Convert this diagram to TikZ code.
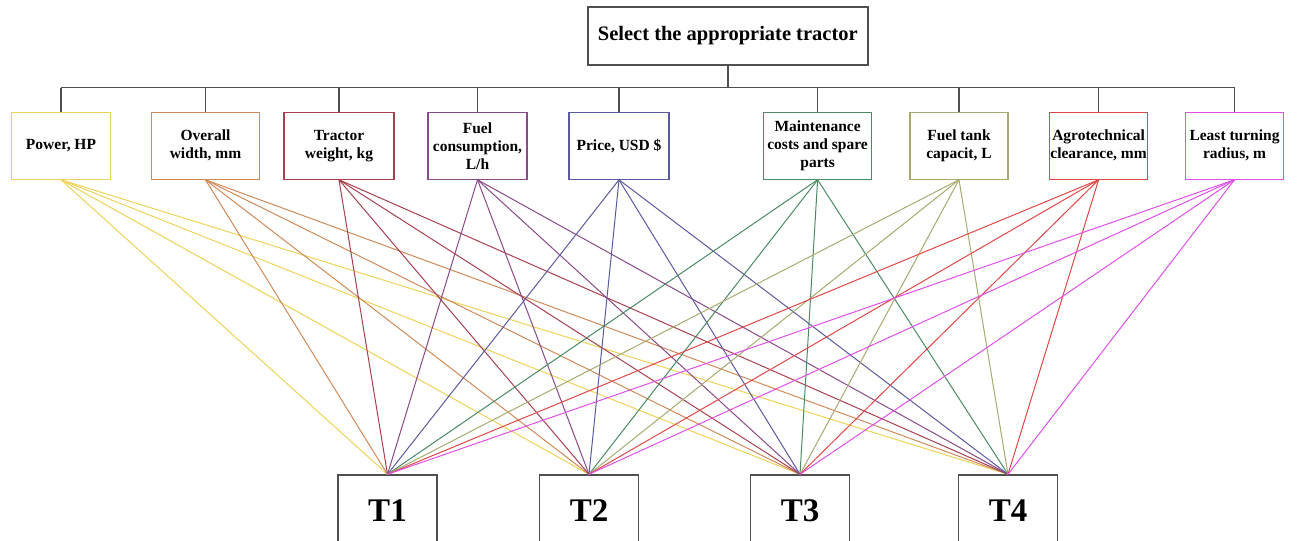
\documentclass[tikz,border=0pt]{standalone}
\usepackage{fontspec}
\setmainfont{Liberation Serif}
\definecolor{cPow}{HTML}{EDD35A}
\definecolor{cWid}{HTML}{D08A5A}
\definecolor{cWei}{HTML}{A84050}
\definecolor{cFue}{HTML}{8A4A8A}
\definecolor{cPri}{HTML}{5A5AA0}
\definecolor{cMai}{HTML}{4A8A64}
\definecolor{cTan}{HTML}{A8AA70}
\definecolor{cAgr}{HTML}{E04848}
\definecolor{cLea}{HTML}{E050E8}
\definecolor{cGry}{HTML}{505050}
\begin{document}
\begin{tikzpicture}[x=0.5pt,y=-0.5pt,
  crit/.style={draw, line width=0.6pt, minimum height=33.5pt, inner sep=0pt, align=center,
    font=\bfseries\fontsize{7.75}{9}\selectfont},
  titlebox/.style={draw=cGry, line width=0.7pt, minimum width=140pt, minimum height=29pt, inner sep=0pt,
    font=\bfseries\fontsize{10.25}{12}\selectfont},
  altbox/.style={draw=cGry, line width=0.7pt, minimum width=49.5pt, minimum height=36pt, inner sep=0pt,
    font=\bfseries\fontsize{16.5}{18}\selectfont},
  bus/.style={draw=cGry, line width=0.75pt},
  link/.style={line width=0.5pt}]
\useasboundingbox (0,0) rectangle (1297,541);
\clip (0,0) rectangle (1297,541);

\node[titlebox] (goal) at (727.8,36) {Select the appropriate tractor};

\node[crit, draw=cPow, minimum width=49.5pt] (pow) at (61,145.7) {Power, HP};
\node[crit, draw=cWid, minimum width=54pt] (wid) at (205.5,145.7) {Overall\\width, mm};
\node[crit, draw=cWei, minimum width=55pt] (wei) at (339,145.7) {Tractor\\weight, kg};
\node[crit, draw=cFue, minimum width=49.5pt] (fue) at (477.5,145.7) {Fuel\\consumption,\\L/h};
\node[crit, draw=cPri, minimum width=50pt] (pri) at (619,145.7) {Price, USD \$};
\node[crit, draw=cMai, minimum width=54pt] (mai) at (817.6,145.7) {Maintenance\\costs and spare\\parts};
\node[crit, draw=cTan, minimum width=49pt] (tan) at (959,145.7) {Fuel tank\\capacit, L};
\node[crit, draw=cAgr, minimum width=49pt] (agr) at (1098.6,145.7) {Agrotechnical\\clearance, mm};
\node[crit, draw=cLea, minimum width=49pt] (lea) at (1234.5,145.7) {Least turning\\radius, m};

\node[altbox] (t1) at (387.5,511) {T1};
\node[altbox] (t2) at (589,511) {T2};
\node[altbox] (t3) at (800,511) {T3};
\node[altbox] (t4) at (1008,511) {T4};

\coordinate (busL) at (61,87.7);
\coordinate (busR) at (1234.5,87.7);
\draw[bus] (busL) -- (busR);
\draw[bus] (goal.south) -- (goal.south |- busL);
\foreach \c in {pow,wid,wei,fue,pri,mai,tan,agr,lea}{
  \draw[bus] (\c.north) -- (\c.north |- busL);
}

\foreach \c/\col in {pow/cPow,wid/cWid,wei/cWei,fue/cFue,pri/cPri,mai/cMai,tan/cTan,agr/cAgr,lea/cLea}{
  \foreach \t in {t1,t2,t3,t4}{
    \draw[link, draw=\col] (\c.south) -- (\t.north);
  }
}
\end{tikzpicture}
\end{document}
